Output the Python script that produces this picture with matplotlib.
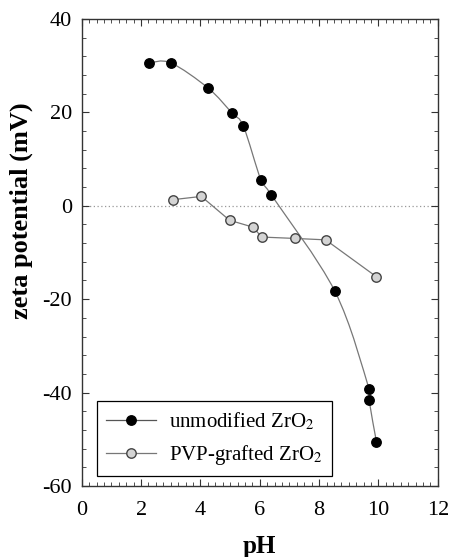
import matplotlib.pyplot as plt
import numpy as np
from matplotlib.path import Path
from matplotlib.patches import PathPatch
from matplotlib.ticker import MultipleLocator

# data
ph_bare = [2.27, 3.0, 4.26, 5.07, 5.45, 6.04, 6.39, 8.53, 9.68, 9.68, 9.93]
zeta_bare = [30.6, 30.6, 25.2, 19.8, 17.0, 5.5, 2.3, -18.3, -39.2, -41.5, -50.5]
ph_pvp = [3.07, 4.03, 4.98, 5.78, 6.06, 7.19, 8.22, 9.93]
zeta_pvp = [1.3, 2.0, -3.1, -4.6, -6.7, -7.0, -7.3, -15.2]

plt.rcParams['font.family'] = ['Liberation Serif', 'DejaVu Serif']
plt.rcParams['mathtext.fontset'] = 'stix'
plt.rcParams['axes.unicode_minus'] = False


def smooth_path(xs, ys):
    # catmull-rom style bezier through the points (drawing only)
    pts = np.column_stack([xs, ys])
    verts = [pts[0]]
    codes = [Path.MOVETO]
    n = len(pts)
    for i in range(n - 1):
        p0 = pts[max(i - 1, 0)]
        p1 = pts[i]
        p2 = pts[i + 1]
        p3 = pts[min(i + 2, n - 1)]
        c1 = p1 + (p2 - p0) / 6.0
        c2 = p2 - (p3 - p1) / 6.0
        verts += [c1, c2, p2]
        codes += [Path.CURVE4] * 3
    return Path(verts, codes)


fig = plt.figure(figsize=(4.5, 5.57), dpi=100)
ax = fig.add_axes([0.1816, 0.1275, 0.7914, 0.8385])

ax.axhline(0, color='#999999', lw=0.9, ls=(0, (1, 2)), zorder=1)

ax.add_patch(PathPatch(smooth_path(ph_bare, zeta_bare), fill=False,
                       ec='#777777', lw=0.9, transform=ax.transData, zorder=2))
ax.plot(ph_bare, zeta_bare, ls='none', marker='o', ms=6.8, mfc='black',
        mec='black', zorder=3)
ax.plot([], [], color='#555555', lw=0.9, marker='o', ms=6.8, mfc='black',
        mec='black', label='unmodified ZrO$_2$')

ax.plot(ph_pvp, zeta_pvp, color='#777777', lw=0.9, marker='o', ms=6.8,
        mfc='#d4d4d4', mec='#444444', mew=1.0, zorder=3,
        label='PVP-grafted ZrO$_2$')

ax.set_xlim(0, 12)
ax.set_ylim(-60, 40)
ax.xaxis.set_major_locator(MultipleLocator(2))
ax.xaxis.set_minor_locator(MultipleLocator(0.25))
ax.yaxis.set_major_locator(MultipleLocator(20))
ax.yaxis.set_minor_locator(MultipleLocator(4))
ax.tick_params(which='both', direction='in', top=True, right=True,
               labelsize=16, color='#333333')
ax.tick_params(which='major', length=5)
ax.tick_params(which='minor', length=3)
ax.tick_params(axis='x', which='major', pad=11)
ax.tick_params(axis='y', which='major', pad=7)
for s in ax.spines.values():
    s.set_color('#333333')
    s.set_linewidth(1.0)

ax.set_xlabel('pH', fontsize=18, fontweight='bold')
ax.xaxis.set_label_coords(0.5, -0.105)
ax.set_ylabel('zeta potential (mV)', fontsize=19, fontweight='bold')
ax.yaxis.set_label_coords(-0.137, 0.59)

leg = ax.legend(loc='lower left', bbox_to_anchor=(0.043, 0.021),
                fontsize=15, frameon=True, fancybox=False,
                edgecolor='black', framealpha=1, handlelength=2.4,
                borderaxespad=0, borderpad=0.45, labelspacing=0.5,
                handletextpad=0.6)
leg.get_frame().set_linewidth(0.9)

fig.savefig('out.png', dpi=100)
